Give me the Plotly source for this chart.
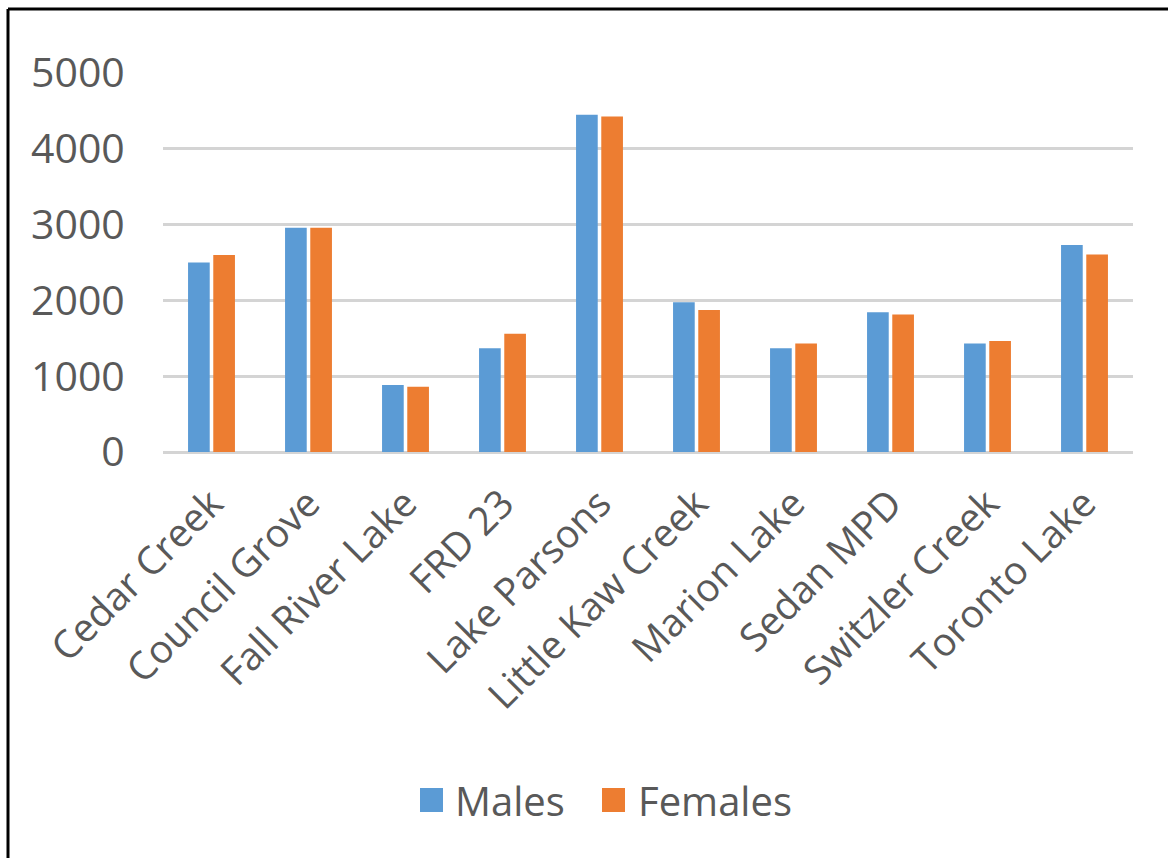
import plotly.graph_objects as go

# Survey sites and counts by sex
sites = ["Cedar Creek", "Council Grove", "Fall River Lake", "FRD 23", "Lake Parsons",
         "Little Kaw Creek", "Marion Lake", "Sedan MPD", "Switzler Creek", "Toronto Lake"]
males = [2500, 2960, 885, 1370, 4450, 1975, 1370, 1845, 1430, 2730]
females = [2600, 2960, 860, 1560, 4425, 1875, 1430, 1815, 1465, 2605]
y_ticks = [0, 1000, 2000, 3000, 4000, 5000]

series_names = ["Males", "Females"]
colors = ["#5B9BD5", "#ED7D31"]
text_color = "#595959"
font_family = "Open Sans"

W, H = 1168, 858
ML, MR, MT, MB = 163, 35, 73, 406
PW, PH = W - ML - MR, H - MT - MB


def px_to_paper(x, y):
    return (x - ML) / PW, (H - MB - y) / PH


fig = go.Figure()
for name, vals, col in zip(series_names, [males, females], colors):
    fig.add_trace(go.Bar(x=sites, y=vals, name=name, marker_color=col,
                         marker_line_width=0, showlegend=False))

fig.update_layout(
    width=W, height=H,
    margin=dict(l=ML, r=MR, t=MT, b=MB),
    paper_bgcolor="white", plot_bgcolor="white",
    barmode="group", bargap=0.48, bargroupgap=0.14,
    font=dict(family=font_family, color=text_color),
)
fig.update_xaxes(
    tickangle=-45, tickfont=dict(size=39, color=text_color),
    ticks="outside", ticklen=12, tickcolor="rgba(0,0,0,0)",
    showgrid=False, showline=False, zeroline=False,
)
fig.update_yaxes(
    range=[0, 5000], tickvals=y_ticks, tickfont=dict(size=41, color=text_color),
    ticks="outside", ticklen=29, tickcolor="rgba(0,0,0,0)",
    showgrid=True, gridcolor="#D4D4D4", gridwidth=2.5,
    zeroline=True, zerolinecolor="#D4D4D4", zerolinewidth=2.5,
    showline=False,
)

# Hand-built legend below the chart
legend_y = 800
item_x = [420, 602]
text_x = [453, 636]
shapes = []
annotations = []
for name, col, sx, tx in zip(series_names, colors, item_x, text_x):
    x0, y0 = px_to_paper(sx, legend_y + 12)
    x1, y1 = px_to_paper(sx + 23, legend_y - 12)
    shapes.append(dict(type="rect", xref="paper", yref="paper",
                       x0=x0, y0=y0, x1=x1, y1=y1,
                       fillcolor=col, line_width=0))
    ax, ay = px_to_paper(tx, legend_y)
    annotations.append(dict(text=name, xref="paper", yref="paper", x=ax, y=ay,
                            xanchor="left", yanchor="middle", showarrow=False,
                            font=dict(size=40, color=text_color, family=font_family)))

# Frame lines along the top and left edges
lx, _ = px_to_paper(8, 0)
_, ty = px_to_paper(0, 9)
_, by = px_to_paper(0, H)
rx, _ = px_to_paper(W, 0)
shapes.append(dict(type="line", xref="paper", yref="paper", x0=lx, x1=lx, y0=by, y1=ty,
                   line=dict(color="black", width=3)))
shapes.append(dict(type="line", xref="paper", yref="paper", x0=lx, x1=rx, y0=ty, y1=ty,
                   line=dict(color="black", width=3)))

fig.update_layout(shapes=shapes, annotations=annotations)
fig.write_html("out.html")
